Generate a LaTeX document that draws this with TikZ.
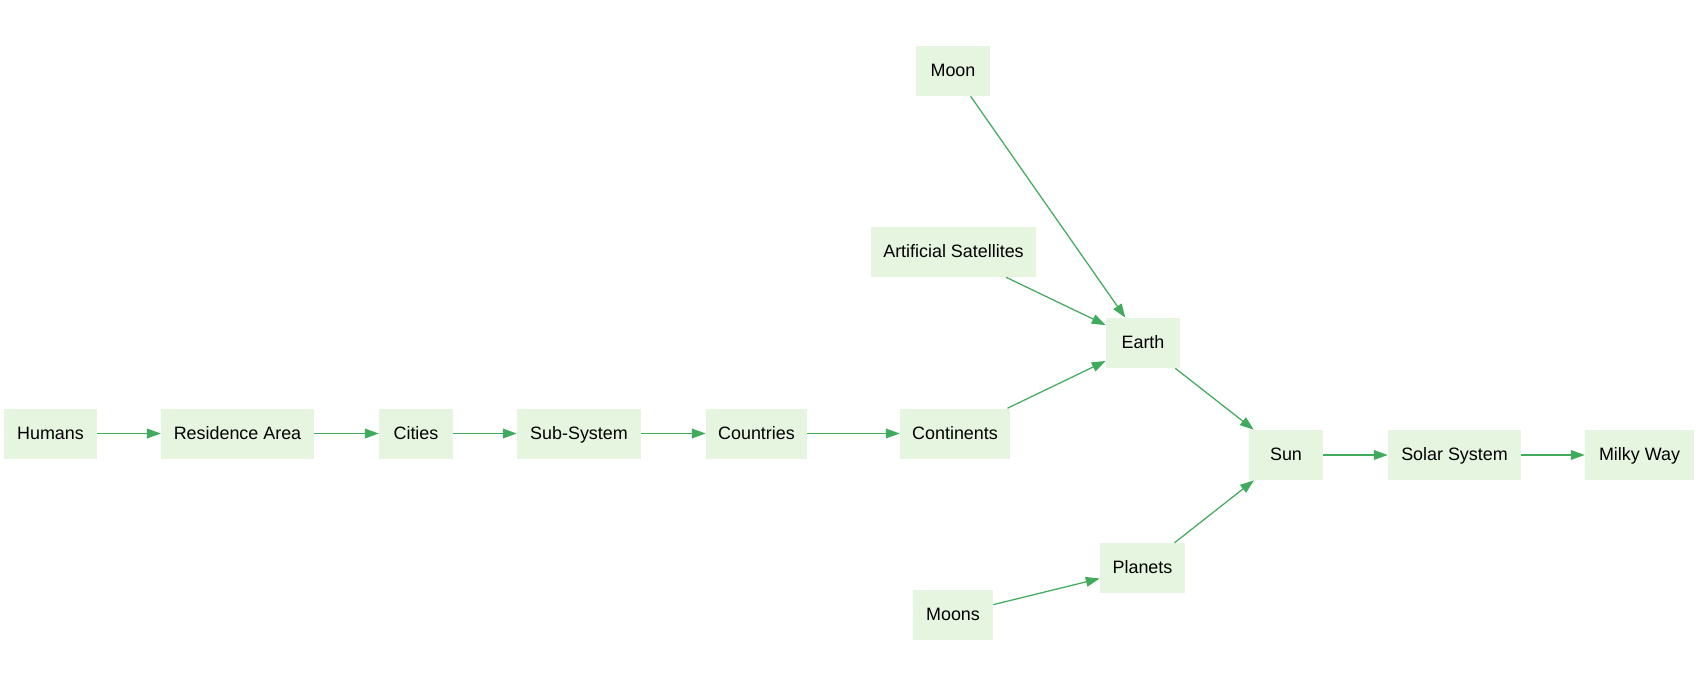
\documentclass[tikz,border=0pt]{standalone}
\usepackage{fontspec}
\setmainfont{Liberation Sans}
\usetikzlibrary{arrows.meta}
\definecolor{boxfill}{HTML}{E5F5E0}
\definecolor{edgegreen}{HTML}{41AB5D}
\tikzset{
  box/.style={fill=boxfill, draw=none, inner sep=0pt, minimum height=36pt,
    text height=10pt, text depth=2pt,
    font=\fontsize{12.9}{15}\selectfont, text=black},
  link/.style={draw=edgegreen, line width=0.9pt, -{Triangle[length=10pt,width=7pt]}}
}
\begin{document}
\begin{tikzpicture}[x=0.72pt,y=-0.72pt]
\useasboundingbox (0,0) rectangle (1699,686);
\node[box, minimum width=67pt] (humans) at (50.5,433.5) {Humans};
\node[box, minimum width=110pt] (res) at (237.5,433.5) {Residence Area};
\node[box, minimum width=53.3pt] (cities) at (416,433.5) {Cities};
\node[box, minimum width=89.3pt] (sub) at (579,433.5) {Sub-System};
\node[box, minimum width=72.7pt] (countries) at (756.5,433.5) {Countries};
\node[box, minimum width=79.2pt] (cont) at (955,433.5) {Continents};
\node[box, minimum width=53.3pt] (moon) at (953,71) {Moon};
\node[box, minimum width=118.8pt] (sat) at (953.5,252) {Artificial Satellites};
\node[box, minimum width=53.3pt] (earth) at (1143,343) {Earth};
\node[box, minimum width=53.3pt] (sun) at (1286,455) {Sun};
\node[box, minimum width=95.8pt] (solar) at (1454.5,455) {Solar System};
\node[box, minimum width=78.5pt] (milky) at (1639.5,455) {Milky Way};
\node[box, minimum width=61.2pt] (planets) at (1142.5,568) {Planets};
\node[box, minimum width=57.6pt] (moons) at (953,614.5) {Moons};
\draw[link] (humans) -- (res);
\draw[link] (res) -- (cities);
\draw[link] (cities) -- (sub);
\draw[link] (sub) -- (countries);
\draw[link] (countries) -- (cont);
\draw[link] (cont) -- (earth);
\draw[link] (moon) -- (earth);
\draw[link] (sat) -- (earth);
\draw[link] (earth) -- (sun);
\draw[link] (planets) -- (sun);
\draw[link] (moons) -- (planets);
\draw[link] (sun) -- (solar);
\draw[link] (solar) -- (milky);
\end{tikzpicture}
\end{document}
